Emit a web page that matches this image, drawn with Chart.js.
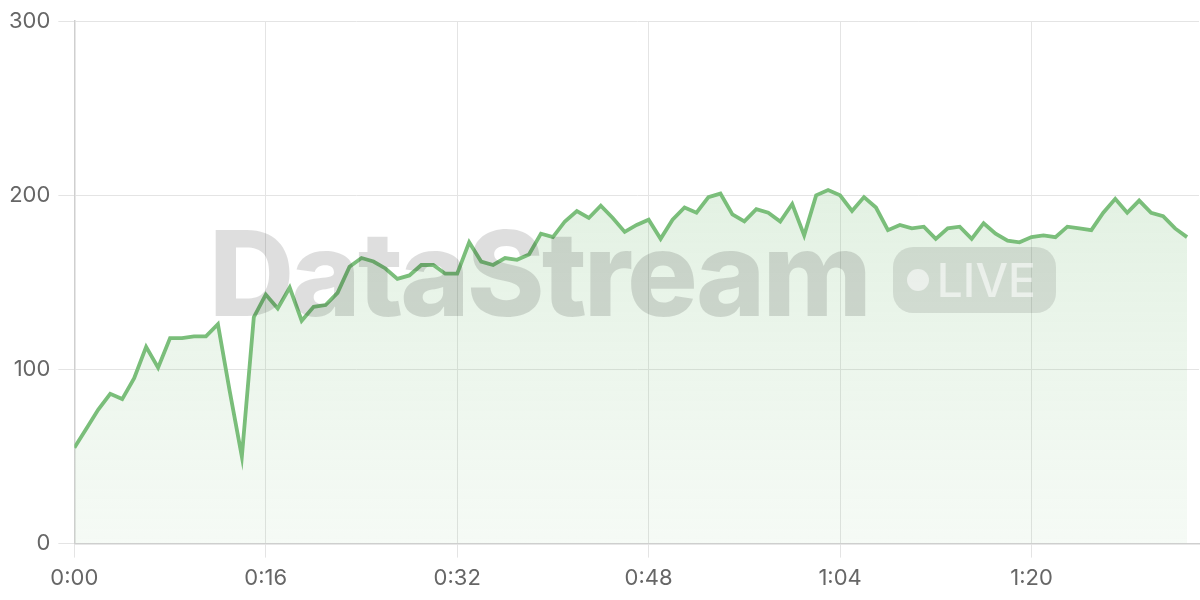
<!DOCTYPE html>
<html>
<head>
<meta charset="utf-8">
<script src="https://cdn.jsdelivr.net/npm/chart.js@4/dist/chart.umd.min.js"></script>
<style>
  html, body { margin: 0; padding: 0; background: #fff; }
  #wrap { position: relative; width: 1200px; height: 600px; }
  #watermark {
    position: absolute; left: 209px; top: 202px;
    display: flex; align-items: center; pointer-events: none;
    font-family: Inter, "Noto Sans", sans-serif;
  }
  #watermark .name {
    font-size: 118px; font-weight: 800; letter-spacing: -3px;
    color: rgba(0, 0, 0, 0.13);
  }
  #watermark .badge {
    margin-left: 24px; margin-top: 14px; height: 66px; padding: 0 20px 0 14px;
    border-radius: 20px; background: rgba(0, 0, 0, 0.1);
    display: flex; align-items: center;
    color: rgba(255, 255, 255, 0.55); font-size: 46px; font-weight: 500;
  }
  #watermark .dot {
    width: 22px; height: 22px; border-radius: 50%;
    background: rgba(255, 255, 255, 0.55); margin-right: 8px;
  }
</style>
</head>
<body>
<div id="wrap">
  <canvas id="myChart" width="1200" height="600"></canvas>
  <div id="watermark"><span class="name">DataStream</span><span class="badge"><span class="dot"></span>LIVE</span></div>
</div>
<script>
// valores, uno por segundo
const valores = [
  55, 66, 77, 86, 83, 95, 113, 101, 118, 118,
  119, 119, 126, 87, 50, 130, 143, 135, 147, 128,
  136, 137, 144, 159, 164, 162, 158, 152, 154, 160,
  160, 155, 155, 173, 162, 160, 164, 163, 166, 178,
  176, 185, 191, 187, 194, 187, 179, 183, 186, 175,
  186, 193, 190, 199, 201, 189, 185, 192, 190, 185,
  195, 177, 200, 203, 200, 191, 199, 193, 180, 183,
  181, 182, 175, 181, 182, 175, 184, 178, 174, 173,
  176, 177, 176, 182, 181, 180, 190, 198, 190, 197,
  190, 188, 181, 176
];
const segundos = valores.map((v, i) => i);
const ticksX = [0, 16, 32, 48, 64, 80];
const ticksY = [0, 100, 200, 300];

function formatoTiempo(s) {
  const m = Math.floor(s / 60);
  const r = s % 60;
  return m + ":" + String(r).padStart(2, "0");
}

const chartDOM = document.getElementById("myChart");

const config = {
  type: "line",
  data: {
    labels: segundos,
    datasets: [
      {
        data: valores,
        borderColor: "rgb(122, 190, 122)",
        borderWidth: 3.8,
        pointRadius: 0,
        tension: 0,
        fill: true,
        backgroundColor: (ctx) => {
          const area = ctx.chart.chartArea;
          if (!area) return "rgba(122, 190, 122, 0.15)";
          const g = ctx.chart.ctx.createLinearGradient(0, area.top, 0, area.bottom);
          g.addColorStop(0, "rgba(122, 190, 122, 0.28)");
          g.addColorStop(1, "rgba(122, 190, 122, 0.07)");
          return g;
        },
      },
    ],
  },
  options: {
    responsive: false,
    animation: false,
    layout: { padding: { top: 8, right: 1, left: 1, bottom: 0 } },
    plugins: { legend: { display: false }, tooltip: { enabled: false } },
    scales: {
      x: {
        type: "linear",
        min: 0,
        max: 94,
        afterBuildTicks: (axis) => {
          axis.ticks = ticksX.map((v) => ({ value: v }));
        },
        ticks: {
          includeBounds: false,
          color: "#666",
          font: { family: "Inter", size: 22 },
          padding: 8,
          maxRotation: 0,
          callback: (v) => formatoTiempo(v),
        },
        grid: { color: "#e4e4e4", tickLength: 14 },
        border: { color: "#cfcfcf", width: 1.5 },
      },
      y: {
        min: 0,
        max: 300,
        afterBuildTicks: (axis) => {
          axis.ticks = ticksY.map((v) => ({ value: v }));
        },
        ticks: {
          color: "#666",
          font: { family: "Inter", size: 22 },
          padding: 8,
        },
        grid: { color: "#e4e4e4", tickLength: 16 },
        border: { color: "#cfcfcf", width: 1.5 },
      },
    },
  },
};

new Chart(chartDOM, config);
</script>
</body>
</html>
